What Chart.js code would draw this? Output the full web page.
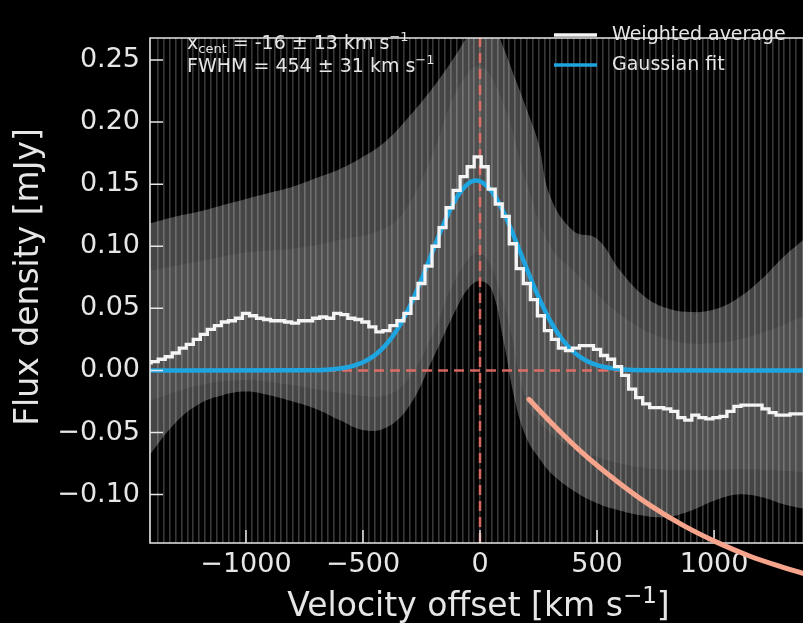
<!DOCTYPE html>
<html>
<head>
<meta charset="utf-8">
<script src="https://cdn.jsdelivr.net/npm/chart.js@4.4.1/dist/chart.umd.min.js"></script>
<style>
  html, body { margin: 0; padding: 0; background: #000; }
  canvas { display: block; }
</style>
</head>
<body>
<canvas id="spectrum" width="803" height="623"></canvas>
<script>
// Stacked spectrum, bin centres [km/s] and weighted average flux [mJy]
const velocity = [
  -1420, -1390, -1360, -1330, -1300, -1270, -1240, -1210, -1180, -1150,
  -1120, -1090, -1060, -1030, -1000, -970, -940, -910, -880, -850,
  -820, -790, -760, -730, -700, -670, -640, -610, -580, -550,
  -520, -490, -460, -430, -400, -370, -340, -310, -280, -250,
  -220, -190, -160, -130, -100, -70, -40, -10, 20, 50,
  80, 110, 140, 170, 200, 230, 260, 290, 320, 350,
  380, 410, 440, 470, 500, 530, 560, 590, 620, 650,
  680, 710, 740, 770, 800, 830, 860, 890, 920, 950,
  980, 1010, 1040, 1070, 1100, 1130, 1160, 1190, 1220, 1250,
  1280, 1310, 1340, 1370, 1400
];
const weightedAverage = [
  0.006, 0.007, 0.009, 0.011, 0.014, 0.018, 0.021, 0.025, 0.029, 0.033,
  0.036, 0.039, 0.040, 0.042, 0.046, 0.044, 0.042, 0.041, 0.040, 0.040,
  0.039, 0.038, 0.040, 0.040, 0.042, 0.043, 0.042, 0.046, 0.045, 0.042,
  0.041, 0.039, 0.035, 0.031, 0.032, 0.036, 0.040, 0.046, 0.058, 0.070,
  0.084, 0.100, 0.115, 0.131, 0.145, 0.156, 0.164, 0.172, 0.164, 0.146,
  0.134, 0.124, 0.102, 0.082, 0.070, 0.057, 0.044, 0.032, 0.025, 0.018,
  0.016, 0.018, 0.020, 0.020, 0.017, 0.012, 0.009, 0.003, -0.004, -0.015,
  -0.022, -0.027, -0.030, -0.030, -0.031, -0.033, -0.038, -0.040, -0.036, -0.038,
  -0.039, -0.038, -0.037, -0.033, -0.029, -0.028, -0.028, -0.028, -0.031, -0.034,
  -0.036, -0.036, -0.035, -0.035, -0.035
];

// Gaussian fit curve as drawn
const fitVelocity = [-1420, -700, -600, -550, -500, -450, -400, -350, -300, -250, -200, -150, -100, -50, -16,
  50, 100, 150, 200, 250, 300, 350, 400, 450, 500, 550, 600, 700, 1400];
const gaussianFit = [0, 0.0002, 0.0016, 0.0033, 0.0066, 0.0121, 0.0210, 0.0341, 0.0517, 0.0732, 0.0971, 0.1202, 0.1391, 0.1506, 0.153,
  0.1443, 0.1277, 0.1056, 0.0817, 0.0591, 0.0399, 0.0252, 0.0149, 0.0082, 0.0043, 0.0021, 0.0009, 0.0001, 0];

const fitCentre = -16, fitCentreErr = 13;
const fitFwhm = 454, fitFwhmErr = 31;

// Spread of the individual spectra (grey envelope)
const bandVelocity = [-1420, -1300, -1200, -1100, -1000, -900, -800, -700, -600, -500, -400, -300, -200, -100, -50, 0,
  50, 100, 150, 200, 250, 300, 400, 500, 600, 700, 800, 900, 1000, 1100, 1200, 1300, 1400];
const bandUpper = [0.118, 0.124, 0.128, 0.133, 0.138, 0.143, 0.148, 0.155, 0.162, 0.172, 0.185, 0.205, 0.228, 0.255, 0.27, 0.28,
  0.28, 0.26, 0.235, 0.21, 0.183, 0.14, 0.112, 0.106, 0.08, 0.06, 0.05, 0.047, 0.049, 0.058, 0.073, 0.092, 0.108];
const bandLower = [-0.07, -0.042, -0.027, -0.020, -0.017, -0.020, -0.025, -0.031, -0.040, -0.048, -0.046, -0.028, 0.010, 0.050, 0.066, 0.072,
  0.065, 0.024, -0.025, -0.055, -0.070, -0.082, -0.097, -0.107, -0.113, -0.117, -0.118, -0.113, -0.105, -0.100, -0.102, -0.108, -0.112];

const coreVelocity = [-1420, -1200, -1000, -800, -600, -400, -300, -200, -100, 0, 100, 200, 300, 400, 600, 800, 1000, 1200, 1400];
const coreUpper = [0.080, 0.088, 0.095, 0.098, 0.105, 0.115, 0.135, 0.175, 0.225, 0.245, 0.215, 0.150, 0.100, 0.080, 0.045, 0.025, 0.022, 0.030, 0.045];
const coreLower = [-0.025, -0.012, -0.008, -0.012, -0.018, -0.020, -0.005, 0.030, 0.075, 0.095, 0.055, -0.025, -0.050, -0.062, -0.075, -0.080, -0.080, -0.080, -0.082];

// hand-drawn arrow on top of the figure
const arrowVelocity = [209, 299, 440, 586, 727, 868, 1013, 1154, 1295, 1380];
const arrowFlux = [-0.0233, -0.0411, -0.0668, -0.0894, -0.1087, -0.1248, -0.1385, -0.1497, -0.1586, -0.1634];

const xRange = [-1410, 1380];
const yRange = [-0.139, 0.2677];
const xTicks = [-1000, -500, 0, 500, 1000];
const xTickLabels = ["\u22121000", "\u2212500", "0", "500", "1000"];
const yTicks = [-0.10, -0.05, 0.00, 0.05, 0.10, 0.15, 0.20, 0.25];
const yTickLabels = ["\u22120.10", "\u22120.05", "0.00", "0.05", "0.10", "0.15", "0.20", "0.25"];

const FONT = "'DejaVu Sans', sans-serif";
const INK = "#e6e6e6";
const pts = (xs, ys) => xs.map((x, i) => ({ x, y: ys[i] }));

function richText(ctx, parts, x, y) {
   parts.forEach(p => {
      ctx.font = `${p.size}px ${FONT}`;
      ctx.fillText(p.t, x, y + p.dy);
      x += ctx.measureText(p.t).width;
   });
}

const overlay = {
   id: "overlay",
   // frame and inward ticks go under the arrow (dataset 0) but over everything else
   afterDatasetDraw(chart, args) {
      if (args.index !== 1) return;
      const { ctx, chartArea: a, scales: { x, y } } = chart;
      ctx.save();
      ctx.strokeStyle = INK;
      ctx.lineWidth = 1.5;
      ctx.beginPath();
      ctx.moveTo(a.right + 10, a.top);
      ctx.lineTo(a.left, a.top);
      ctx.lineTo(a.left, a.bottom);
      ctx.lineTo(a.right + 10, a.bottom);
      xTicks.forEach(v => {
         const px = x.getPixelForValue(v);
         ctx.moveTo(px, a.bottom);
         ctx.lineTo(px, a.bottom - 13);
      });
      yTicks.forEach(v => {
         const py = y.getPixelForValue(v);
         ctx.moveTo(a.left, py);
         ctx.lineTo(a.left + 13, py);
      });
      ctx.stroke();
      ctx.restore();
   },
   afterDraw(chart) {
      const { ctx, chartArea: a } = chart;
      ctx.save();
      ctx.fillStyle = INK;

      // legend
      ctx.textBaseline = "middle";
      ctx.textAlign = "left";
      ctx.font = `19px ${FONT}`;
      [0, 1].forEach((row, i) => {
         const ds = chart.data.datasets[i + 1];
         const yy = a.top - 3 + i * 30;
         ctx.strokeStyle = ds.borderColor;
         ctx.lineWidth = 3.5;
         ctx.beginPath();
         ctx.moveTo(a.right - 249, yy);
         ctx.lineTo(a.right - 206, yy);
         ctx.stroke();
         ctx.fillText(ds.label, a.right - 191, yy);
      });

      // fit results
      ctx.textBaseline = "alphabetic";
      const tx = a.left + 37;
      richText(ctx, [
         { t: "x", size: 19, dy: 0 },
         { t: "cent", size: 13, dy: 4 },
         { t: ` = ${fitCentre} \u00b1 ${fitCentreErr} km s`, size: 19, dy: 0 },
         { t: "\u22121", size: 13, dy: -8 }
      ], tx, a.top + 11);
      richText(ctx, [
         { t: `FWHM = ${fitFwhm} \u00b1 ${fitFwhmErr} km s`, size: 19, dy: 0 },
         { t: "\u22121", size: 13, dy: -8 }
      ], tx, a.top + 33.5);

      // y axis title
      ctx.translate(29, a.top + 239);
      ctx.rotate(-Math.PI / 2);
      ctx.textAlign = "center";
      ctx.textBaseline = "middle";
      ctx.font = `33px ${FONT}`;
      ctx.fillText("Flux density [mJy]", 0, 0);
      ctx.restore();

      // x axis title, superscript drawn like matplotlib mathtext
      ctx.save();
      ctx.fillStyle = INK;
      ctx.textBaseline = "alphabetic";
      ctx.font = `33px ${FONT}`;
      const main = "Velocity offset [km s", sup = "\u22121", close = "]";
      const wMain = ctx.measureText(main).width, wClose = ctx.measureText(close).width;
      ctx.font = `23px ${FONT}`;
      const wSup = ctx.measureText(sup).width;
      let sx = (a.left + a.right) / 2 + 2 - (wMain + wSup + wClose) / 2;
      richText(ctx, [
         { t: main, size: 33, dy: 0 },
         { t: sup, size: 23, dy: -13 },
         { t: close, size: 33, dy: 0 }
      ], sx, 616);
      ctx.restore();
   }
};

const flat = { pointRadius: 0, borderWidth: 0, tension: 0.4 };

new Chart(document.getElementById("spectrum"), {
   type: "line",
   data: {
      datasets: [
         {
            label: "arrow",
            data: pts(arrowVelocity, arrowFlux),
            borderColor: "#f7a48c",
            borderWidth: 5,
            borderCapStyle: "round",
            pointRadius: 0,
            tension: 0.4,
            clip: false
         },
         {
            label: "Weighted average",
            data: pts(velocity, weightedAverage),
            borderColor: "#f4f4f4",
            borderWidth: 3.3,
            stepped: "middle",
            pointRadius: 0
         },
         {
            label: "Gaussian fit",
            data: pts(fitVelocity, gaussianFit),
            borderColor: "#1ea5e0",
            borderWidth: 4.5,
            pointRadius: 0,
            cubicInterpolationMode: "monotone"
         },
         {
            label: "zero flux",
            data: pts(xRange, [0, 0]),
            borderColor: "rgba(236,110,104,0.9)",
            borderWidth: 2.5,
            borderDash: [10, 6],
            pointRadius: 0
         },
         {
            label: "zero velocity",
            data: pts([0, 0], yRange),
            borderColor: "rgba(236,110,104,0.9)",
            borderWidth: 2.5,
            borderDash: [10, 6],
            pointRadius: 0
         },
         { ...flat, label: "core upper", data: pts(coreVelocity, coreUpper), fill: "+1", backgroundColor: "rgba(255,255,255,0.06)" },
         { ...flat, label: "core lower", data: pts(coreVelocity, coreLower), fill: false },
         { ...flat, label: "spread upper", data: pts(bandVelocity, bandUpper), fill: "+1", backgroundColor: "rgba(255,255,255,0.27)" },
         { ...flat, label: "spread lower", data: pts(bandVelocity, bandLower), fill: false }
      ]
   },
   options: {
      responsive: false,
      animation: false,
      devicePixelRatio: 1,
      layout: { padding: { top: 38, right: 0, left: 0, bottom: 0 } },
      plugins: {
         legend: { display: false },
         tooltip: { enabled: false }
      },
      scales: {
         x: {
            type: "linear",
            min: xRange[0],
            max: xRange[1],
            afterBuildTicks: s => { s.ticks = xTicks.map(value => ({ value })); },
            afterFit: s => { s.height = 80; },
            grid: { display: false, drawTicks: false },
            border: { display: false },
            ticks: {
               color: INK,
               font: { size: 27, family: FONT },
               padding: 6,
               maxRotation: 0,
               autoSkip: false,
               callback: (v, i) => xTickLabels[i]
            }
         },
         xg: {
            type: "linear",
            position: "bottom",
            min: xRange[0],
            max: xRange[1],
            afterFit: s => { s.height = 0; },
            ticks: { display: false, stepSize: 25, maxTicksLimit: 200 },
            grid: { color: "rgba(255,255,255,0.22)", lineWidth: 1.6, drawTicks: false },
            border: { display: false }
         },
         y: {
            type: "linear",
            min: yRange[0],
            max: yRange[1],
            afterBuildTicks: s => { s.ticks = yTicks.map(value => ({ value })); },
            afterFit: s => { s.width = 150; },
            grid: { display: false, drawTicks: false },
            border: { display: false },
            ticks: {
               color: INK,
               font: { size: 27, family: FONT },
               padding: 10,
               autoSkip: false,
               callback: (v, i) => yTickLabels[i]
            }
         }
      }
   },
   plugins: [overlay]
});
</script>
</body>
</html>
